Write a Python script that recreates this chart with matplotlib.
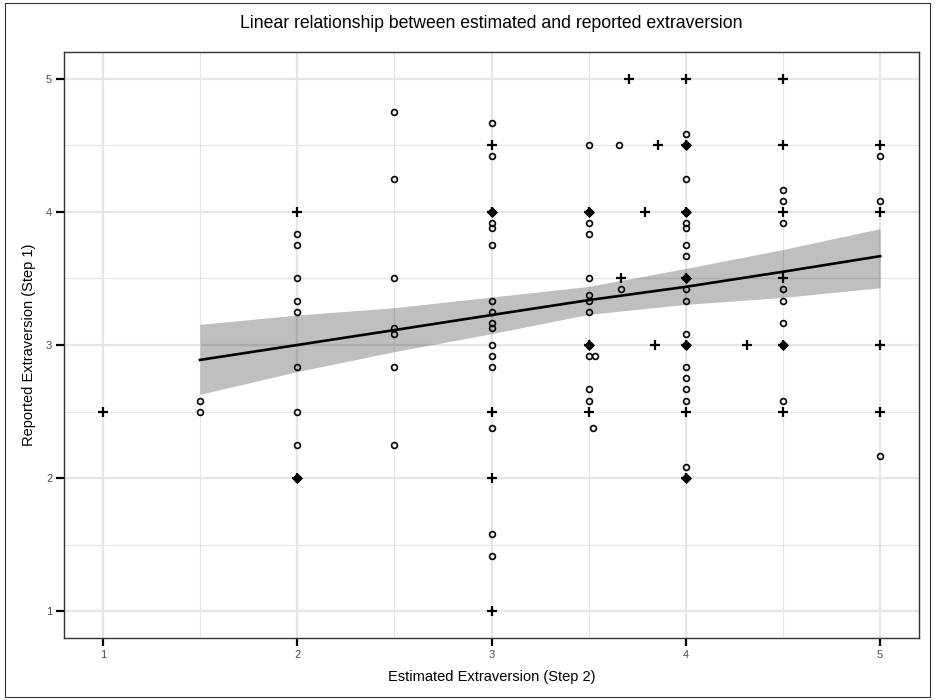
import numpy as np
import matplotlib
matplotlib.use("Agg")
import matplotlib.pyplot as plt
from matplotlib.patches import Rectangle

plt.rcParams['font.family'] = ['Liberation Sans', 'DejaVu Sans']

# open circles (x = estimated, y = reported)
circ_x = [1.5, 1.5,
          2, 2, 2, 2, 2, 2, 2, 2, 2,
          2.5, 2.5, 2.5, 2.5, 2.5, 2.5, 2.5,
          3, 3, 3, 3, 3, 3, 3, 3, 3, 3, 3, 3, 3, 3, 3, 3,
          3.5, 3.5, 3.5, 3.5, 3.5, 3.5, 3.5, 3.5, 3.5, 3.5, 3.5, 3.5,
          3.535, 3.52, 3.657, 3.665,
          4, 4, 4, 4, 4, 4, 4, 4, 4, 4, 4, 4, 4, 4, 4, 4, 4, 4, 4,
          4.5, 4.5, 4.5, 4.5, 4.5, 4.5, 4.5, 4.5,
          5, 5, 5]
circ_y = [2.5, 2.583,
          3.833, 3.75, 3.5, 3.333, 3.25, 2.833, 2.5, 2.25, 2.0,
          4.75, 4.25, 3.5, 3.125, 3.083, 2.833, 2.25,
          4.667, 4.417, 4.0, 3.917, 3.875, 3.75, 3.333, 3.25, 3.167, 3.125,
          3.0, 2.917, 2.833, 2.375, 1.583, 1.417,
          4.5, 4.0, 3.917, 3.833, 3.5, 3.375, 3.333, 3.25, 3.0, 2.917, 2.667, 2.583,
          2.917, 2.375, 4.5, 3.417,
          4.583, 4.5, 4.25, 4.0, 3.917, 3.875, 3.75, 3.667, 3.5, 3.417, 3.333,
          3.083, 3.0, 2.833, 2.75, 2.667, 2.583, 2.083, 2.0,
          4.167, 4.083, 3.917, 3.417, 3.333, 3.167, 3.0, 2.583,
          4.417, 4.083, 2.167]

# plus markers
plus_x = [1, 2, 2, 3, 3, 3, 3, 3, 3.5, 3.5, 3.5,
          3.667, 3.708, 3.79, 3.84, 3.855, 4.316,
          4, 4, 4, 4, 4, 4, 4,
          4.5, 4.5, 4.5, 4.5, 4.5, 4.5,
          5, 5, 5, 5]
plus_y = [2.5, 4.0, 2.0, 4.5, 4.0, 2.5, 2.0, 1.0, 4.0, 3.0, 2.5,
          3.5, 5.0, 4.0, 3.0, 4.5, 3.0,
          5.0, 4.5, 4.0, 3.5, 3.0, 2.5, 2.0,
          5.0, 4.5, 4.0, 3.5, 3.0, 2.5,
          4.5, 4.0, 3.0, 2.5]

# smooth line and its band
fit_x = [1.5, 2.0, 2.5, 3.0, 3.5, 4.0, 4.5, 5.0]
fit_y = [2.888, 3.0, 3.112, 3.225, 3.337, 3.437, 3.55, 3.667]
band_hi = [3.155, 3.225, 3.28, 3.36, 3.44, 3.575, 3.717, 3.874]
band_lo = [2.63, 2.80, 2.95, 3.085, 3.23, 3.305, 3.357, 3.43]

# where a circle and a plus sit on the same spot the marks merge into a blob
both = sorted(set(zip(circ_x, circ_y)) & set(zip(plus_x, plus_y)))
both_x = [p[0] for p in both]
both_y = [p[1] for p in both]

fig = plt.figure(figsize=(9.35, 7), dpi=100)
ax = fig.add_axes([64/935, 62/700, 855/935, 586/700])

ax.set_xlim(0.8, 5.2)
ax.set_ylim(0.8, 5.2)
ax.set_xticks([1, 2, 3, 4, 5])
ax.set_yticks([1, 2, 3, 4, 5])
ax.set_xticks([1.5, 2.5, 3.5, 4.5], minor=True)
ax.set_yticks([1.5, 2.5, 3.5, 4.5], minor=True)
ax.tick_params(which='minor', length=0)
ax.tick_params(which='major', length=5.5, width=1.6, color='black',
               labelsize=8, labelcolor='#4d4d4d', pad=3)
ax.grid(which='major', color='#e6e6e6', linewidth=1.6)
ax.grid(which='minor', color='#e6e6e6', linewidth=0.8)
ax.set_axisbelow(True)
for s in ax.spines.values():
    s.set_color('#333333')
    s.set_linewidth(1.0)

ax.fill_between(fit_x, band_lo, band_hi, color='black', alpha=0.25,
                linewidth=0, zorder=2)
ax.plot(circ_x, circ_y, linestyle='none', marker='o', markersize=4.2,
        markerfacecolor='none', markeredgecolor='black', markeredgewidth=1.2,
        zorder=3)
ax.plot(plus_x, plus_y, linestyle='none', marker='+', markersize=6.5,
        markeredgecolor='black', markeredgewidth=1.6, zorder=3)
ax.plot(both_x, both_y, linestyle='none', marker='D', markersize=4.6,
        markerfacecolor='black', markeredgecolor='black', markeredgewidth=0.5,
        zorder=3)
ax.plot(fit_x, fit_y, color='black', linewidth=1.9, zorder=4)

ax.set_xlabel('Estimated Extraversion (Step 2)', fontsize=10.5, labelpad=7)
ax.set_ylabel('Reported Extraversion (Step 1)', fontsize=10.5, labelpad=7)
# title centred over the panel, like ggplot does
fig.text((64 + 919) / 2 / 935, 1 - 23/700,
         'Linear relationship between estimated and reported extraversion',
         ha='center', va='center', fontsize=12.7)

fig.patches.append(Rectangle((5/935, 3/700), 925/935, 694/700, transform=fig.transFigure,
                             fill=False, edgecolor='#333333', linewidth=0.8))

fig.savefig('out.png', dpi=100)
